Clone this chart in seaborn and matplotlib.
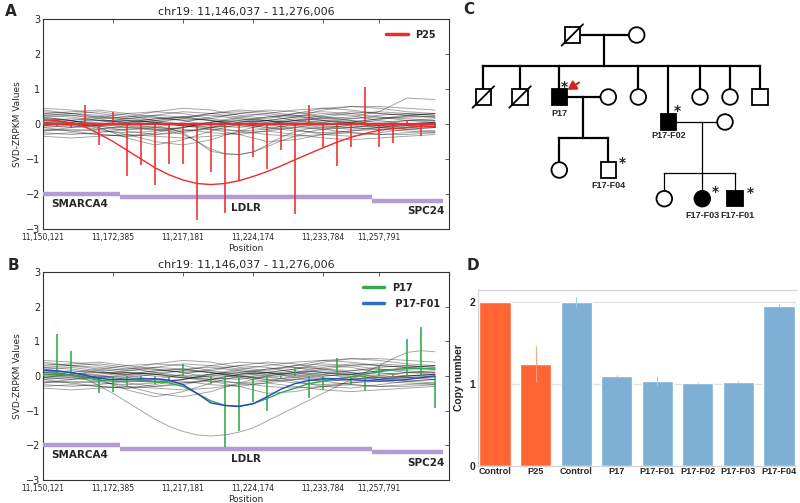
import numpy as np
import pandas as pd
import matplotlib
matplotlib.use("Agg")
import matplotlib.pyplot as plt
import seaborn as sns
from matplotlib.lines import Line2D
from matplotlib.patches import Rectangle, Circle

sns.set_style("white")
plt.rcParams['font.family'] = ['DejaVu Sans']

# ---------------- data: panels A/B ----------------
title_ab = "chr19: 11,146,037 - 11,276,006"
probe_idx = list(range(29))
xtick_pos = [0, 5, 10, 15, 20, 24]
xtick_labels = ["11,150,121", "11,172,385", "11,217,181", "11,224,174", "11,233,784", "11,257,791"]
knot_idx = list(range(0, 29, 2))

p25_stems = [0.1, -0.05, -0.08, 0.55, -0.6, 0.35, -1.5, -1.17, -1.74, -1.15, -1.13, -2.75, -1.37, -2.55,
             -1.63, -0.95, -1.3, -0.75, -2.58, 0.55, -0.67, -1.2, -0.65, 1.07, -0.65, -0.55, 0.1, -0.35, -0.12]
p25_curve = [0.12, 0.1, 0.03, -0.08, -0.28, -0.5, -0.75, -1.0, -1.25, -1.45, -1.6, -1.7, -1.73, -1.7,
             -1.62, -1.5, -1.36, -1.2, -1.02, -0.85, -0.68, -0.52, -0.38, -0.27, -0.18, -0.13, -0.1, -0.08, -0.07]
p17_stems = [0.05, 1.22, 0.72, 0.08, -0.48, -0.47, -0.3, -0.18, -0.22, -0.12, 0.35, -0.1, -0.22, -2.05,
             -1.6, -0.75, -1.0, -0.1, 0.22, -0.64, -0.41, 0.52, -0.26, -0.43, 0.33, 0.1, 1.08, 1.41, -0.93]
p17_curve = [0.05, 0.05, 0.02, -0.05, -0.12, -0.15, -0.15, -0.15, -0.17, -0.2, -0.3, -0.5, -0.72, -0.85,
             -0.87, -0.8, -0.65, -0.48, -0.35, -0.22, -0.15, -0.08, -0.02, 0.05, 0.12, 0.18, 0.22, 0.22, 0.2]
f01_curve = [0.17, 0.15, 0.1, 0.02, -0.07, -0.1, -0.1, -0.08, -0.08, -0.12, -0.25, -0.5, -0.78, -0.85,
             -0.88, -0.8, -0.6, -0.38, -0.22, -0.13, -0.08, -0.08, -0.1, -0.13, -0.15, -0.13, -0.1, -0.05, 0.0]
b_dip_curve = [0.12, 0.1, 0.03, -0.08, -0.28, -0.5, -0.75, -1.0, -1.25, -1.45, -1.6, -1.7, -1.73, -1.7,
               -1.62, -1.5, -1.3, -1.1, -0.9, -0.7, -0.5, -0.3, -0.1, 0.1, 0.3, 0.5, 0.68, 0.73, 0.7]
a_high_curve = [0.3, 0.25, 0.2, 0.15, 0.1, 0.2, 0.3, 0.35, 0.3, 0.2, 0.15, 0.2, 0.35, 0.74, 0.7]

gray_curves = [
    [0.45, 0.4, 0.3, 0.2, 0.35, 0.45, 0.4, 0.25, 0.15, 0.3, 0.45, 0.5, 0.45, 0.35, 0.3],
    [0.35, 0.3, 0.25, 0.15, 0.25, 0.35, 0.3, 0.2, 0.1, 0.2, 0.4, 0.5, 0.5, 0.45, 0.4],
    [0.25, 0.2, 0.1, 0.05, 0.15, 0.2, 0.25, 0.15, 0.05, 0.1, 0.25, 0.35, 0.3, 0.25, 0.2],
    [0.2, 0.25, 0.15, 0.0, -0.1, 0.05, 0.2, 0.3, 0.25, 0.1, 0.0, 0.05, 0.15, 0.2, 0.2],
    [0.1, 0.15, 0.1, 0.05, 0.0, -0.05, 0.0, 0.1, 0.2, 0.25, 0.2, 0.1, 0.05, 0.1, 0.1],
    [0.05, 0.0, -0.05, 0.0, 0.1, 0.15, 0.1, 0.0, -0.1, -0.05, 0.05, 0.15, 0.2, 0.15, 0.1],
    [0.0, 0.05, 0.1, 0.1, 0.05, -0.05, -0.1, -0.05, 0.05, 0.15, 0.1, 0.0, -0.05, 0.0, 0.05],
    [-0.05, -0.1, -0.05, 0.05, 0.15, 0.2, 0.1, -0.05, -0.15, -0.1, 0.0, 0.05, 0.0, -0.05, -0.05],
    [-0.1, -0.05, 0.0, -0.05, -0.15, -0.2, -0.1, 0.05, 0.1, 0.05, -0.05, -0.1, -0.05, 0.0, 0.0],
    [-0.15, -0.2, -0.15, -0.05, 0.05, 0.0, -0.1, -0.2, -0.15, 0.0, 0.1, 0.05, -0.1, -0.15, -0.1],
    [-0.2, -0.15, -0.2, -0.25, -0.2, -0.1, 0.0, 0.0, -0.1, -0.2, -0.25, -0.2, -0.1, -0.05, -0.1],
    [-0.25, -0.3, -0.25, -0.15, -0.1, -0.15, -0.25, -0.3, -0.2, -0.1, -0.15, -0.25, -0.3, -0.25, -0.2],
    [-0.3, -0.25, -0.3, -0.35, -0.3, -0.2, -0.15, -0.2, -0.3, -0.35, -0.3, -0.25, -0.3, -0.3, -0.25],
    [-0.35, -0.4, -0.35, -0.3, -0.35, -0.4, -0.35, -0.25, -0.2, -0.3, -0.4, -0.45, -0.4, -0.35, -0.3],
    [0.3, 0.35, 0.4, 0.3, 0.2, 0.1, 0.15, 0.3, 0.4, 0.35, 0.2, 0.15, 0.25, 0.3, 0.25],
    [0.15, 0.1, 0.2, 0.3, 0.35, 0.3, 0.15, 0.05, 0.1, 0.2, 0.3, 0.25, 0.1, 0.0, 0.05],
    [0.05, 0.1, 0.0, -0.1, -0.15, -0.1, 0.05, 0.15, 0.1, -0.05, -0.15, -0.1, 0.0, 0.1, 0.15],
    [-0.05, 0.0, 0.05, 0.15, 0.2, 0.1, -0.05, -0.1, 0.0, 0.1, 0.15, 0.1, -0.05, -0.15, -0.2],
    [0.4, 0.3, 0.2, 0.1, 0.05, 0.15, 0.3, 0.4, 0.35, 0.25, 0.1, 0.05, 0.15, 0.25, 0.3],
    [-0.1, -0.2, -0.3, -0.35, -0.25, -0.1, 0.05, 0.1, 0.0, -0.15, -0.3, -0.35, -0.25, -0.15, -0.1],
    [0.2, 0.1, -0.05, -0.2, -0.3, -0.25, -0.1, 0.05, 0.2, 0.3, 0.35, 0.3, 0.2, 0.1, 0.05],
    [0.0, -0.05, -0.15, -0.3, -0.5, -0.6, -0.45, -0.2, 0.0, 0.1, 0.05, -0.05, -0.1, -0.05, 0.0],
    [0.1, 0.05, -0.1, -0.4, -0.6, -0.45, -0.2, 0.0, 0.1, 0.0, -0.1, -0.15, -0.1, 0.0, 0.05],
    [-0.2, -0.1, 0.0, 0.1, 0.05, -0.05, -0.15, -0.3, -0.5, -0.45, -0.3, -0.2, -0.15, -0.2, -0.25],
    [0.25, 0.3, 0.35, 0.25, 0.1, 0.0, 0.05, 0.2, 0.3, 0.4, 0.45, 0.4, 0.3, 0.25, 0.3],
    [-0.05, 0.05, 0.15, 0.2, 0.25, 0.2, 0.1, 0.0, -0.05, 0.05, 0.2, 0.3, 0.35, 0.3, 0.25],
]

genes = ["SMARCA4", "LDLR", "SPC24"]
gene_start = [0, 5.5, 23.5]
gene_end = [5.5, 23.5, 28.6]
gene_level = [-2.0, -2.1, -2.2]

# ---------------- data: panel D ----------------
cn_labels = ["Control", "P25", "Control", "P17", "P17-F01", "P17-F02", "P17-F03", "P17-F04"]
cn_values = [2.0, 1.25, 2.0, 1.1, 1.04, 1.02, 1.03, 1.96]
cn_errors = [0.0, 0.22, 0.06, 0.01, 0.06, 0.01, 0.01, 0.02]
cn_group = ["P25", "P25", "P17", "P17", "P17", "P17", "P17", "P17"]

RED = "#ee2b2b"
GREEN = "#2fa84a"
BLUE = "#2747c4"
PURPLE = "#b39bd6"
ORANGE = "#ff6633"
LBLUE = "#7eb0d5"

fig = plt.figure(figsize=(8, 5.03), dpi=100)


def gray_frame(curves_knots, extra_full):
    rows = []
    for k, c in enumerate(curves_knots):
        for xi, yi in zip(knot_idx, c):
            rows.append((f"k{k}", xi, yi))
    for k, c in enumerate(extra_full):
        for xi, yi in zip(probe_idx, c):
            rows.append((f"e{k}", xi, yi))
    return pd.DataFrame(rows, columns=["curve", "x", "y"])


def style_track(ax):
    ax.set_xlim(0, 29)
    ax.set_ylim(-3, 3)
    ax.set_yticks([-3, -2, -1, 0, 1, 2, 3])
    ax.set_xticks(xtick_pos)
    ax.set_xticklabels(xtick_labels, fontsize=5.5)
    ax.tick_params(axis='y', labelsize=7, pad=2)
    ax.tick_params(direction='in', top=True, right=True, length=3, width=0.6, color='#444444')
    ax.tick_params(axis='x', pad=3)
    for s in ax.spines.values():
        s.set_color('#333333')
        s.set_linewidth(0.8)
    ax.set_title(title_ab, fontsize=8, pad=3)
    ax.set_xlabel("Position", fontsize=6.5, labelpad=1)
    ax.set_ylabel("SVD-ZRPKM Values", fontsize=6.5, labelpad=3)
    for g, s, e, lv in zip(genes, gene_start, gene_end, gene_level):
        ax.plot([s, e], [lv, lv], color=PURPLE, lw=3.2, solid_capstyle='butt', zorder=3)
    ax.text(0.6, -2.28, genes[0], fontsize=7.5, fontweight='bold', ha='left', va='center')
    ax.text(14.5, -2.4, genes[1], fontsize=7.5, fontweight='bold', ha='center', va='center')
    ax.text(28.7, -2.5, genes[2], fontsize=7.5, fontweight='bold', ha='right', va='center')


# ---------- Panel A ----------
axA = fig.add_axes([43 / 800, 1 - 229 / 503, 406 / 800, 210 / 503])
dfA = gray_frame(gray_curves + [a_high_curve], [f01_curve, p17_curve])
sns.lineplot(data=dfA, x="x", y="y", units="curve", estimator=None, color="black",
             alpha=0.35, lw=0.7, ax=axA, legend=False)
axA.vlines(probe_idx, 0, p25_stems, color=RED, lw=1.15, zorder=4)
axA.plot([0, 28], [0, 0], color=RED, lw=1.6, zorder=4)
sns.lineplot(x=probe_idx, y=p25_curve, color=RED, lw=1.0, ax=axA, zorder=5)
style_track(axA)
axA.legend(handles=[Line2D([], [], color=RED, lw=2.5)], labels=["P25"], loc="upper right",
           frameon=False, prop={'weight': 'bold', 'size': 7}, handlelength=2.2,
           bbox_to_anchor=(0.99, 0.99))

# ---------- Panel B ----------
axB = fig.add_axes([43 / 800, 1 - 480 / 503, 406 / 800, 208 / 503])
dfB = gray_frame(gray_curves, [b_dip_curve])
sns.lineplot(data=dfB, x="x", y="y", units="curve", estimator=None, color="black",
             alpha=0.35, lw=0.7, ax=axB, legend=False)
axB.vlines(probe_idx, 0, p17_stems, color=GREEN, lw=1.15, zorder=4)
sns.lineplot(x=probe_idx, y=p17_curve, color=GREEN, lw=1.0, ax=axB, zorder=5)
sns.lineplot(x=probe_idx, y=f01_curve, color=BLUE, lw=1.0, ax=axB, zorder=6)
style_track(axB)
axB.legend(handles=[Line2D([], [], color="#3aa655", lw=2.5), Line2D([], [], color="#2e6fc0", lw=2.5)],
           labels=["P17", " P17-F01"], loc="upper right", frameon=False,
           prop={'weight': 'bold', 'size': 7}, handlelength=2.2, bbox_to_anchor=(1.0, 0.99),
           labelspacing=0.6)

# ---------- Panel C (pedigree, pixel coordinates) ----------
axC = fig.add_axes([440 / 800, 1 - 250 / 503, 360 / 800, 250 / 503])
axC.set_xlim(440, 800)
axC.set_ylim(250, 0)
axC.axis('off')
S = 15.5
R = 7.8


def sq(x, y, filled=False, dead=False, lw=1.3):
    axC.add_patch(Rectangle((x - S / 2, y - S / 2), S, S, facecolor='black' if filled else 'white',
                            edgecolor='black', lw=lw, zorder=3))
    if dead:
        axC.plot([x - S / 2 - 3, x + S / 2 + 3], [y + S / 2 + 3, y - S / 2 - 3], color='black', lw=1.3, zorder=4)


def ci(x, y, filled=False, lw=1.3):
    axC.add_patch(Circle((x, y), R, facecolor='black' if filled else 'white', edgecolor='black', lw=lw, zorder=3))


def ln(xs, ys, lw=1.6):
    axC.plot(xs, ys, color='black', lw=lw, zorder=2, solid_capstyle='projecting')


# generation I
ln([572, 637], [35, 35])
ln([604.3, 604.3], [35, 65.7])
sq(572.3, 35, dead=True)
ci(636.7, 35)
# generation II sibship
ln([483.3, 760], [65.7, 65.7])
gen2 = [483.3, 520, 559.3, 638.3, 668.3, 700, 730, 760]
for gx in gen2:
    ybot = 114.3 if gx == 668.3 else 89.3
    ln([gx, gx], [65.7, ybot])
sq(483.3, 97, dead=True)
sq(520, 97, dead=True)
sq(559.3, 97, filled=True)
ci(638.3, 97)
sq(668.3, 122, filled=True)
ci(700, 97)
ci(730, 97)
sq(760, 97)
# P17 family
ln([559.3, 608.3], [97, 97])
ci(608.3, 97)
ln([583.3, 583.3], [97, 138.3])
ln([559.3, 608.3], [138.3, 138.3])
ln([559.3, 559.3], [138.3, 162])
ln([608.3, 608.3], [138.3, 162])
ci(559.3, 170)
sq(608.3, 170)
# P17-F02 family
ln([668.3, 725], [122, 122], lw=0.9)
ci(725, 122)
ln([701.7, 701.7], [122, 190], lw=0.9)
ln([664.3, 735], [173.3, 173.3], lw=0.9)
ln([664.3, 664.3], [173.3, 190], lw=0.9)
ln([735, 735], [173.3, 190], lw=0.9)
ci(664.3, 198.7)
ci(702.3, 198.7, filled=True)
sq(735, 198.7, filled=True)

lab_font = dict(fontsize=6.5, fontweight='bold', ha='center', va='center',
                family=['Liberation Sans', 'DejaVu Sans'])
axC.text(559.3, 113.3, "P17", **lab_font)
axC.text(668.3, 136, "P17-F02", **lab_font)
axC.text(608.3, 186, "F17-F04", **lab_font)
axC.text(702.3, 215.7, "F17-F03", **lab_font)
axC.text(737.7, 215.7, "F17-F01", **lab_font)
for ax_, ay_ in [(564.5, 87), (677.3, 111), (622.7, 163), (715, 192), (750.7, 193)]:
    axC.text(ax_, ay_, "*", fontsize=10, ha='center', va='center', fontweight='bold')
axC.annotate("", xy=(567.5, 90), xytext=(579, 82.5),
             arrowprops=dict(arrowstyle='-|>,head_length=0.5,head_width=0.3', color='#d42020',
                             lw=1.5, mutation_scale=10, shrinkA=0, shrinkB=0))

# ---------- Panel D ----------
axD = fig.add_axes([478 / 800, 1 - 466 / 503, 318 / 800, 176 / 503])
keys = [f"b{i}" for i in range(len(cn_labels))]
dfD = pd.DataFrame({"key": keys, "value": cn_values, "group": cn_group})
pal = {k: (ORANGE if g == "P25" else LBLUE) for k, g in zip(keys, cn_group)}
for yv in [1, 2]:
    axD.axhline(yv, color='#e2e2e2', lw=1.0, zorder=0)
sns.barplot(data=dfD, x="key", y="value", hue="key", palette=pal, width=0.77, errorbar=None,
            ax=axD, legend=False, saturation=1, zorder=2)
for i, (v, e, g) in enumerate(zip(cn_values, cn_errors, cn_group)):
    if e > 0:
        axD.errorbar(i, v, yerr=e, fmt='none', ecolor='#ff9f88' if g == "P25" else '#a9c9e4',
                     elinewidth=0.8, capsize=0, zorder=3)
axD.set_xlim(-0.42, 7.42)
axD.set_ylim(0, 2.15)
axD.set_yticks([0, 1, 2])
bold_font = ['Liberation Sans', 'DejaVu Sans']
axD.set_xticks(range(len(cn_labels)))
axD.set_xticklabels(cn_labels, fontsize=6.6, fontweight='bold', family=bold_font)
axD.set_yticklabels(["0", "1", "2"], fontsize=7.5, fontweight='bold', family=bold_font)
axD.tick_params(length=0, pad=1)
axD.tick_params(axis='y', pad=2)
axD.set_xlabel("")
axD.set_ylabel("Copy number", fontsize=7.5, fontweight='bold', family=bold_font, labelpad=4)
for side in ['top', 'left', 'bottom']:
    axD.spines[side].set_color('#d4d4d4')
    axD.spines[side].set_linewidth(0.9)
axD.spines['right'].set_visible(False)

# ---------- panel letters ----------
fig.text(5 / 800, 1 - 12 / 503, "A", fontsize=11, fontweight='bold', va='center')
fig.text(8 / 800, 1 - 266 / 503, "B", fontsize=11, fontweight='bold', va='center')
fig.text(463 / 800, 1 - 9 / 503, "C", fontsize=11, fontweight='bold', va='center')
fig.text(467 / 800, 1 - 265 / 503, "D", fontsize=11, fontweight='bold', va='center')

fig.savefig("out.png", dpi=100)
